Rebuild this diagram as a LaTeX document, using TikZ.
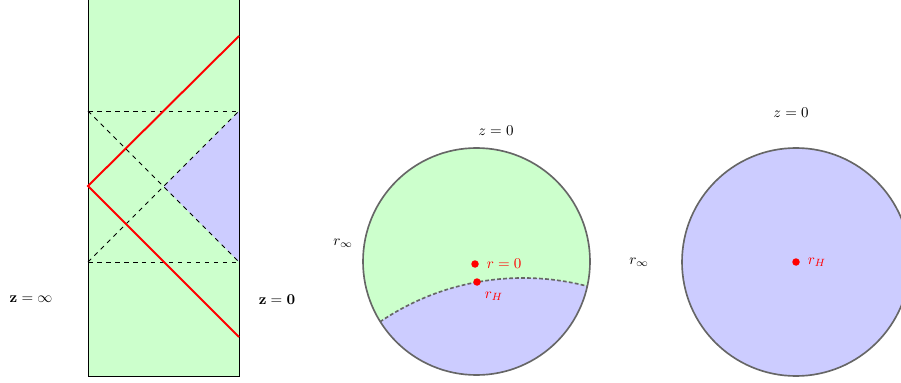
\documentclass[tikz,border=0pt]{standalone}
\begin{document}
\begin{tikzpicture}[x=0.6667pt,y=-0.6667pt,
  greenfill/.style={fill={rgb,255:red,204;green,255;blue,204}},
  bluefill/.style={fill={rgb,255:red,204;green,204;blue,255}},
  redline/.style={red,line width=1.3pt},
  thindash/.style={black,dashed,line width=0.5pt},
  rim/.style={draw=black!60,line width=1.1pt},
  reddot/.style={circle,fill=red,inner sep=0pt,minimum size=5pt},
  redlabel/.style={text=red,inner sep=1pt}]
\useasboundingbox (0,0) rectangle (901,383);
\clip (0,0) rectangle (901,383);
% ---------- left strip ----------
\coordinate (tl) at (88,0);
\coordinate (tr) at (239,0);
\coordinate (bl) at (88,376);
\coordinate (br) at (239,376);
\fill[greenfill] (tl) rectangle (br);
\coordinate (apex) at (88,186);
\coordinate (ru) at (239,36);
\coordinate (rd) at (239,337);
\coordinate (hl1) at (88,111);
\coordinate (hr1) at (239,111);
\coordinate (hl2) at (88,262);
\coordinate (hr2) at (239,262);
\coordinate (cross) at (163.5,186.5);
\fill[bluefill] (cross) -- (hr1) -- (hr2) -- cycle;
\draw[black,line width=0.6pt] (tl) -- (bl) -- (br) -- (tr);
\draw[thindash] (hl1) -- (hr1);
\draw[thindash] (hl2) -- (hr2);
\draw[thindash] (hl1) -- (hr2);
\draw[thindash] (hl2) -- (hr1);
\draw[redline] (ru) -- (apex) -- (rd);
\node (zinf) at (31,299) {$\mathbf{z=\infty}$};
\node (zzero) at (277,300) {$\mathbf{z=0}$};
% ---------- middle disk ----------
\coordinate (c1) at (476.5,261.5);
\fill[greenfill] (c1) circle (113.5);
\begin{scope}
  \clip (c1) circle (113.5);
  \coordinate (hc) at (523,533);
  \fill[bluefill] (hc) circle (255);
  \draw[black!60,line width=1.1pt,dash pattern=on 2.5pt off 1.5pt] (hc) circle (255);
\end{scope}
\draw[rim] (c1) circle (113.5);
\node (ztop1) at (496,131) {$z=0$};
\node (rinf1) at (343,243) {$r_\infty$};
\node[reddot] (r0) at (475,264) {};
\node[reddot] (rh1) at (477,282) {};
\node[redlabel,anchor=west] (r0lab) at (485,264) {$r=0$};
\node[redlabel] (rh1lab) at (494,296) {$r_H$};
% ---------- right disk ----------
\coordinate (c2) at (796,262);
\fill[bluefill] (c2) circle (114);
\draw[rim] (c2) circle (114);
\node (ztop2) at (791,113) {$z=0$};
\node (rinf2) at (639,262) {$r_\infty$};
\node[reddot] (rh2) at (796,262) {};
\node[redlabel,anchor=west] (rh2lab) at (806,262) {$r_H$};
\end{tikzpicture}
\end{document}
